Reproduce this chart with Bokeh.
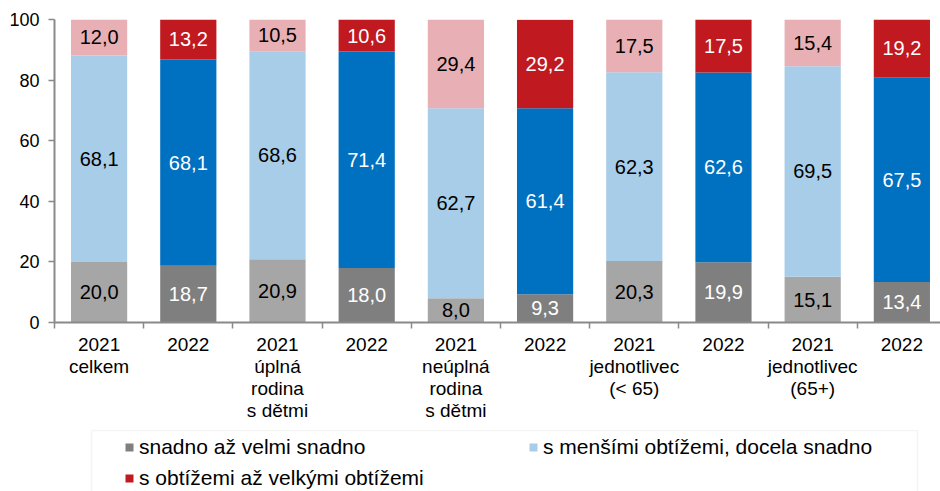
from bokeh.plotting import figure
from bokeh.layouts import column
from bokeh.models import (Range1d, FixedTicker, ColumnDataSource, Legend, LegendItem,
                          BoxAnnotation)
from bokeh.core.properties import value
from bokeh.embed import file_html
from bokeh.resources import INLINE

categories = ["2021\ncelkem", "2022", "2021\núplná\nrodina\ns dětmi", "2022",
              "2021\nneúplná\nrodina\ns dětmi", "2022", "2021\njednotlivec\n(< 65)", "2022",
              "2021\njednotlivec\n(65+)", "2022"]
years = ["2021", "2022", "2021", "2022", "2021", "2022", "2021", "2022", "2021", "2022"]
easy = [20.0, 18.7, 20.9, 18.0, 8.0, 9.3, 20.3, 19.9, 15.1, 13.4]
mid = [68.1, 68.1, 68.6, 71.4, 62.7, 61.4, 62.3, 62.6, 69.5, 67.5]
hard = [12.0, 13.2, 10.5, 10.6, 29.4, 29.2, 17.5, 17.5, 15.4, 19.2]
series_names = ["snadno až velmi snadno", "s menšími obtížemi, docela snadno",
                "s obtížemi až velkými obtížemi"]
y_ticks = [0, 20, 40, 60, 80, 100]

colors_2021 = ["#A6A6A6", "#A7CDE8", "#E8B0B4"]
colors_2022 = ["#7F7F7F", "#0070C0", "#C0191F"]
text_2021 = "#000000"
text_2022 = "#FFFFFF"

FONT = "Liberation Sans"

p = figure(width=940, height=429, x_range=Range1d(-0.5, 9.433), y_range=Range1d(0, 100),
           output_backend="svg", toolbar_location=None,
           min_border_left=54, min_border_right=0, min_border_top=19, min_border_bottom=107)
p.outline_line_color = None
p.xgrid.visible = False
p.ygrid.visible = False

# legend-only strip below the chart (1 data unit = 1 px)
p2 = figure(width=940, height=62, x_range=Range1d(0, 886), y_range=Range1d(0, 62),
            output_backend="svg", toolbar_location=None,
            min_border_left=54, min_border_right=0, min_border_top=0, min_border_bottom=0)
p2.axis.visible = False
p2.grid.visible = False
p2.outline_line_color = None
p2.extra_x_ranges = {"hidden": Range1d(-5000, -4999)}
p2.extra_y_ranges = {"hidden": Range1d(-5000, -4999)}
p2.add_layout(BoxAnnotation(left=37, right=863, top=61, bottom=-10, fill_alpha=0,
                            line_color="#D9D9D9", line_width=1.5))

xs = list(range(len(categories)))
series = [easy, mid, hard]
bottom = [0.0] * len(xs)
legend_renderers = []
for si, vals in enumerate(series):
    top = [b + v for b, v in zip(bottom, vals)]
    fill = [colors_2021[si] if y == "2021" else colors_2022[si] for y in years]
    tcol = [text_2021 if y == "2021" else text_2022 for y in years]
    mids = [(b + t) / 2 for b, t in zip(bottom, top)]
    labels = [f"{v:.1f}".replace(".", ",") for v in vals]
    src = ColumnDataSource(dict(x=xs, bottom=bottom, top=top, fill=fill, tcol=tcol,
                                mid=mids, label=labels))
    p.vbar(x="x", bottom="bottom", top="top", width=0.63, fill_color="fill",
           line_color=None, source=src)
    p.text(x="x", y="mid", text="label", text_color="tcol", source=src,
           text_align="center", text_baseline="middle", text_font=value(FONT),
           text_font_size="20px")
    r2 = p2.vbar(x="x", bottom="bottom", top="top", width=0.63, fill_color="fill",
                 line_color=None, source=src, x_range_name="hidden", y_range_name="hidden")
    legend_renderers.append(r2)
    bottom = top

axis_color = "#898989"
xa = p.xaxis[0]
xa.ticker = FixedTicker(ticks=xs, minor_ticks=[x - 0.5 for x in xs] + [len(xs) - 0.5])
xa.major_label_overrides = {i: c for i, c in enumerate(categories)}
xa.major_tick_line_color = None
xa.major_tick_out = 0
xa.minor_tick_line_color = axis_color
xa.minor_tick_line_width = 1.5
xa.minor_tick_out = 6
xa.minor_tick_in = 0
xa.axis_line_color = axis_color
xa.axis_line_width = 2
xa.major_label_text_font = FONT
xa.major_label_text_font_size = "19px"
xa.major_label_text_line_height = 1.05
xa.major_label_text_color = "#000000"
xa.major_label_standoff = 5

ya = p.yaxis[0]
ya.ticker = FixedTicker(ticks=y_ticks)
ya.minor_tick_line_color = None
ya.major_tick_line_color = axis_color
ya.major_tick_line_width = 1.5
ya.major_tick_out = 6
ya.major_tick_in = 0
ya.axis_line_color = axis_color
ya.axis_line_width = 2
ya.major_label_text_font = FONT
ya.major_label_text_font_size = "18px"
ya.major_label_text_color = "#000000"
ya.major_label_standoff = 9

legend1 = Legend(items=[LegendItem(label=series_names[0], renderers=[legend_renderers[0]], index=1),
                        LegendItem(label=series_names[2], renderers=[legend_renderers[2]], index=1)],
                 orientation="vertical", location=(70, 1))
legend2 = Legend(items=[LegendItem(label=series_names[1], renderers=[legend_renderers[1]], index=0)],
                 orientation="vertical", location=(474, 32))
for lg in (legend1, legend2):
    lg.label_text_font = FONT
    lg.label_text_font_size = "21px"
    lg.label_text_color = "#000000"
    lg.glyph_width = 10
    lg.glyph_height = 10
    lg.label_standoff = 5
    lg.spacing = 7
    lg.padding = 0
    lg.margin = 0
    lg.border_line_color = None
    lg.background_fill_alpha = 0
    lg.click_policy = "none"
    p2.add_layout(lg, "center")

layout = column(p, p2, spacing=0)
open("out.html", "w").write(file_html(layout, INLINE))
